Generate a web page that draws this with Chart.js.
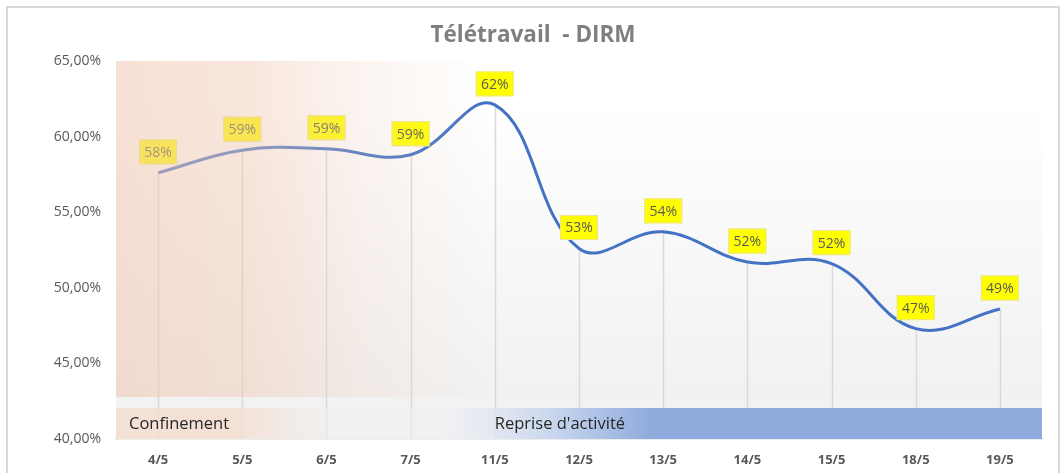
<!DOCTYPE html>
<html>
<head>
<meta charset="utf-8">
<script src="https://cdn.jsdelivr.net/npm/chart.js@4/dist/chart.umd.min.js"></script>
<style>
    html, body { margin: 0; padding: 0; background: #ffffff; }
    #wrap { position: relative; width: 1062px; height: 473px; }
</style>
</head>
<body>
<div id="wrap"><canvas id="chart"></canvas></div>
<script>
// Data
const dates = ['4/5', '5/5', '6/5', '7/5', '11/5', '12/5', '13/5', '14/5', '15/5', '18/5', '19/5'];
const teletravail = [0.576, 0.591, 0.592, 0.588, 0.621, 0.526, 0.537, 0.517, 0.516, 0.473, 0.486];
const yMin = 0.40;
const yMax = 0.65;
const yStep = 0.05;
const periods = ['Confinement', "Reprise d'activité"];
const repriseStart = 4; // index of 11/5

const FONT = '"Open Sans", "DejaVu Sans", sans-serif';

// Frame, plot background, band and drop lines
const backdrop = {
    id: 'backdrop',
    beforeDraw(chart) {
        const ctx = chart.ctx;
        ctx.save();
        ctx.strokeStyle = '#D9D9D9';
        ctx.lineWidth = 2;
        ctx.strokeRect(7, 7, chart.width - 10, chart.height + 20);
        ctx.restore();
    },
    beforeDatasetsDraw(chart) {
        const { ctx, chartArea: a } = chart;
        const bandTop = a.bottom - 31;
        const stripTop = bandTop - 11;
        ctx.save();

        // plot area background
        const bg = ctx.createLinearGradient(0, a.top, 0, stripTop);
        bg.addColorStop(0, '#FFFFFF');
        bg.addColorStop(0.12, '#FFFFFF');
        bg.addColorStop(1, '#F1F1F1');
        ctx.fillStyle = bg;
        ctx.fillRect(a.left, a.top, a.width, stripTop - a.top);
        ctx.fillStyle = '#F2F2F2';
        ctx.fillRect(a.left, stripTop, a.width, a.bottom - stripTop);

        // drop lines
        const meta = chart.getDatasetMeta(0);
        ctx.strokeStyle = '#D9D9D9';
        ctx.lineWidth = 1.5;
        meta.data.forEach(pt => {
            ctx.beginPath();
            ctx.moveTo(Math.round(pt.x) + 0.5, pt.y);
            ctx.lineTo(Math.round(pt.x) + 0.5, a.bottom);
            ctx.stroke();
        });

        // bottom band
        const band = ctx.createLinearGradient(a.left, 0, a.right, 0);
        band.addColorStop(0, 'rgba(244,222,208,0.85)');
        band.addColorStop(0.13, 'rgba(244,222,208,0.85)');
        band.addColorStop(0.24, 'rgba(240,240,240,0.5)');
        band.addColorStop(0.36, 'rgba(238,239,243,0.6)');
        band.addColorStop(0.48, 'rgba(196,211,237,1)');
        band.addColorStop(0.58, 'rgba(143,170,220,1)');
        band.addColorStop(1, 'rgba(143,170,220,1)');
        ctx.fillStyle = band;
        ctx.fillRect(a.left, bandTop, a.width, a.bottom - bandTop);
        ctx.restore();
    },
    afterDatasetsDraw(chart) {
        const { ctx, chartArea: a } = chart;
        const meta = chart.getDatasetMeta(0);
        const bandTop = a.bottom - 31;
        const stripTop = bandTop - 11;
        ctx.save();

        // data labels
        ctx.font = '14px ' + FONT;
        ctx.textAlign = 'center';
        ctx.textBaseline = 'middle';
        meta.data.forEach((pt, i) => {
            const cx = pt.x;
            const cy = pt.y - 21;
            ctx.fillStyle = '#FFFF00';
            ctx.fillRect(cx - 19, cy - 12.5, 38, 25);
            ctx.strokeStyle = 'rgba(235,225,160,0.9)';
            ctx.lineWidth = 1;
            ctx.strokeRect(cx - 19 + 0.5, cy - 12.5 + 0.5, 37, 24);
            ctx.fillStyle = '#595959';
            ctx.fillText(Math.round(teletravail[i] * 100) + '%', cx, cy + 1);
        });

        // confinement overlay
        const ov = ctx.createLinearGradient(a.left, 0, a.right, 0);
        ov.addColorStop(0, 'rgba(240,200,178,0.55)');
        ov.addColorStop(0.14, 'rgba(240,200,178,0.45)');
        ov.addColorStop(0.27, 'rgba(240,205,185,0.2)');
        ov.addColorStop(0.40, 'rgba(240,210,190,0)');
        ctx.fillStyle = ov;
        ctx.fillRect(a.left, a.top, a.width, stripTop - a.top);

        // band texts
        ctx.font = '16.5px ' + FONT;
        ctx.textAlign = 'left';
        ctx.fillStyle = '#262626';
        const ty = (bandTop + a.bottom) / 2 + 1;
        ctx.fillText(periods[0], a.left + 13, ty);
        ctx.fillText(periods[1], chart.scales.x.getPixelForValue(repriseStart), ty);
        ctx.restore();
    }
};

new Chart(document.getElementById('chart'), {
    type: 'line',
    data: {
        labels: dates,
        datasets: [{
            label: 'Télétravail',
            data: teletravail,
            borderColor: '#4472C4',
            borderWidth: 3,
            tension: 0.4,
            pointRadius: 0,
            fill: false
        }]
    },
    options: {
        responsive: true,
        maintainAspectRatio: false,
        animation: false,
        layout: { padding: { left: 24, right: 20, top: 0, bottom: 0 } },
        plugins: {
            legend: { display: false },
            tooltip: { enabled: false },
            title: {
                display: true,
                text: 'Télétravail  - DIRM',
                color: '#7F7F7F',
                font: { family: FONT, size: 22.5, weight: 'bold' },
                padding: { top: 22, bottom: 12 }
            }
        },
        scales: {
            x: {
                offset: true,
                grid: { display: false, drawTicks: false },
                border: { display: true, color: '#D9D9D9', width: 1.5 },
                ticks: {
                    color: '#595959',
                    font: { family: FONT, size: 13, weight: 'bold' },
                    padding: 13,
                    maxRotation: 0
                },
                afterFit: (s) => { s.height = 34; }
            },
            y: {
                min: yMin,
                max: yMax,
                grid: { display: false, drawTicks: false },
                border: { display: false },
                ticks: {
                    stepSize: yStep,
                    color: '#595959',
                    font: { family: FONT, size: 14 },
                    padding: 15,
                    callback: (v) => (v * 100).toFixed(2).replace('.', ',') + '%'
                },
                afterFit: (s) => { s.width = 92; }
            }
        }
    },
    plugins: [backdrop]
});
</script>
</body>
</html>
